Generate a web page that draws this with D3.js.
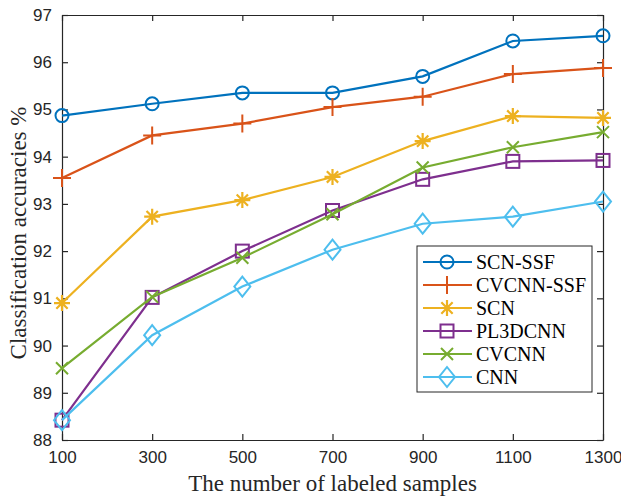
<!DOCTYPE html>
<html>
<head>
<meta charset="utf-8">
<script src="https://cdn.jsdelivr.net/npm/d3@7"></script>
<style>
  body { margin: 0; background: #fff; }
  .tick text { font-family: "Liberation Sans", Arial, sans-serif; font-size: 17px; fill: #262626; }
</style>
</head>
<body>
<div id="chart"></div>
<script>
var samples = [100, 300, 500, 700, 900, 1100, 1300]
var yTicks = [88, 89, 90, 91, 92, 93, 94, 95, 96, 97]

var scnSsf = [94.87, 95.12, 95.35, 95.35, 95.70, 96.45, 96.56]
var cvcnnSsf = [93.55, 94.45, 94.70, 95.05, 95.27, 95.75, 95.88]
var scn = [90.90, 92.73, 93.08, 93.57, 94.33, 94.86, 94.82]
var pl3dcnn = [88.42, 91.02, 92.00, 92.86, 93.52, 93.90, 93.92]
var cvcnn = [89.52, 91.03, 91.86, 92.78, 93.77, 94.20, 94.52]
var cnn = [88.42, 90.22, 91.25, 92.03, 92.58, 92.73, 93.05]

var series = [
    { name: 'SCN-SSF', values: scnSsf, color: '#0072BD', marker: 'circle' },
    { name: 'CVCNN-SSF', values: cvcnnSsf, color: '#D95319', marker: 'plus' },
    { name: 'SCN', values: scn, color: '#EDB120', marker: 'star' },
    { name: 'PL3DCNN', values: pl3dcnn, color: '#7E2F8E', marker: 'square' },
    { name: 'CVCNN', values: cvcnn, color: '#77AC30', marker: 'cross' },
    { name: 'CNN', values: cnn, color: '#4DBEEE', marker: 'diamond' }
]

var W = 621, H = 496
var margin = { top: 15, right: 18, bottom: 56, left: 62 },
    width = W - margin.left - margin.right,
    height = H - margin.top - margin.bottom;

var svg = d3.select('#chart').append('svg')
    .attr('width', W)
    .attr('height', H)
var g = svg.append('g')
    .attr('transform', 'translate(' + margin.left + ',' + margin.top + ')')

var x = d3.scaleLinear().domain([100, 1300]).range([0, width])
var y = d3.scaleLinear().domain([88, 97]).range([height, 0])

// axes with inward ticks, box on
function styleAxis(sel) {
    sel.select('.domain').attr('stroke', '#262626').attr('stroke-width', 1.2)
    sel.selectAll('.tick line').attr('stroke', '#262626').attr('stroke-width', 1.2)
}
g.append('g').attr('transform', 'translate(0,' + height + ')')
    .call(d3.axisBottom(x).tickValues(samples).tickFormat(d3.format('d')).tickSizeInner(-6).tickSizeOuter(0).tickPadding(11))
    .call(styleAxis)
g.append('g')
    .call(d3.axisLeft(y).tickValues(yTicks).tickFormat(d3.format('d')).tickSizeInner(-6).tickSizeOuter(0).tickPadding(10))
    .call(styleAxis)
g.append('g')
    .call(d3.axisTop(x).tickValues(samples).tickFormat('').tickSizeInner(-6).tickSizeOuter(0))
    .call(styleAxis)
g.append('g').attr('transform', 'translate(' + width + ',0)')
    .call(d3.axisRight(y).tickValues(yTicks).tickFormat('').tickSizeInner(-6).tickSizeOuter(0))
    .call(styleAxis)

// markers
function drawMarker(sel, type, color) {
    var s = 7
    if (type === 'circle') {
        sel.append('circle').attr('r', 6.5).attr('fill', 'none').attr('stroke', color).attr('stroke-width', 2)
    } else if (type === 'plus') {
        sel.append('path').attr('d', 'M' + (-s - 2) + ',0H' + (s + 2) + 'M0,' + (-s - 2) + 'V' + (s + 2))
            .attr('stroke', color).attr('stroke-width', 2).attr('fill', 'none')
    } else if (type === 'star') {
        var r = 8, d = ''
        ;[0, 45, 90, 135].forEach(function (a) {
            var rad = a * Math.PI / 180
            d += 'M' + (-r * Math.cos(rad)) + ',' + (-r * Math.sin(rad)) + 'L' + (r * Math.cos(rad)) + ',' + (r * Math.sin(rad))
        })
        sel.append('path').attr('d', d).attr('stroke', color).attr('stroke-width', 2.2).attr('fill', 'none')
    } else if (type === 'square') {
        sel.append('rect').attr('x', -6.5).attr('y', -6.5).attr('width', 13).attr('height', 13)
            .attr('fill', 'none').attr('stroke', color).attr('stroke-width', 2)
    } else if (type === 'cross') {
        sel.append('path').attr('d', 'M-6,-6L6,6M-6,6L6,-6').attr('stroke', color).attr('stroke-width', 2).attr('fill', 'none')
    } else if (type === 'diamond') {
        sel.append('path').attr('d', 'M0,-10L8,0L0,10L-8,0Z').attr('fill', 'none').attr('stroke', color).attr('stroke-width', 2)
    }
}

var line = d3.line()
    .x(function (d, i) { return x(samples[i]) })
    .y(function (d) { return y(d) })

series.forEach(function (s) {
    g.append('path').datum(s.values)
        .attr('fill', 'none').attr('stroke', s.color).attr('stroke-width', 2.2)
        .attr('d', line)
    g.selectAll(null).data(s.values).enter().append('g')
        .attr('transform', function (d, i) { return 'translate(' + x(samples[i]) + ',' + y(d) + ')' })
        .each(function () { drawMarker(d3.select(this), s.marker, s.color) })
})

// legend
var lg = svg.append('g').attr('transform', 'translate(417,246)')
lg.append('rect').attr('width', 175).attr('height', 146)
    .attr('fill', '#fff').attr('stroke', '#262626').attr('stroke-width', 1)
series.forEach(function (s, i) {
    var row = lg.append('g').attr('transform', 'translate(0,' + (16 + i * 23) + ')')
    row.append('line').attr('x1', 6).attr('x2', 55).attr('y1', 0).attr('y2', 0)
        .attr('stroke', s.color).attr('stroke-width', 2.2)
    var m = row.append('g').attr('transform', 'translate(30,0)')
    drawMarker(m, s.marker, s.color)
    row.append('text').attr('x', 59).attr('y', 7)
        .attr('font-family', '"Liberation Serif", "Times New Roman", serif')
        .attr('font-size', '20px').attr('fill', '#000')
        .text(s.name)
})

// axis titles
svg.append('text')
    .attr('x', margin.left + width / 2).attr('y', 491)
    .attr('text-anchor', 'middle')
    .attr('font-family', '"Liberation Serif", "Times New Roman", serif')
    .attr('font-size', '23px').attr('fill', '#262626')
    .text('The number of labeled samples')
svg.append('text')
    .attr('transform', 'translate(26,233) rotate(-90)')
    .attr('text-anchor', 'middle')
    .attr('font-family', '"Liberation Serif", "Times New Roman", serif')
    .attr('font-size', '23px').attr('fill', '#262626')
    .text('Classification accuracies %')
</script>
</body>
</html>
